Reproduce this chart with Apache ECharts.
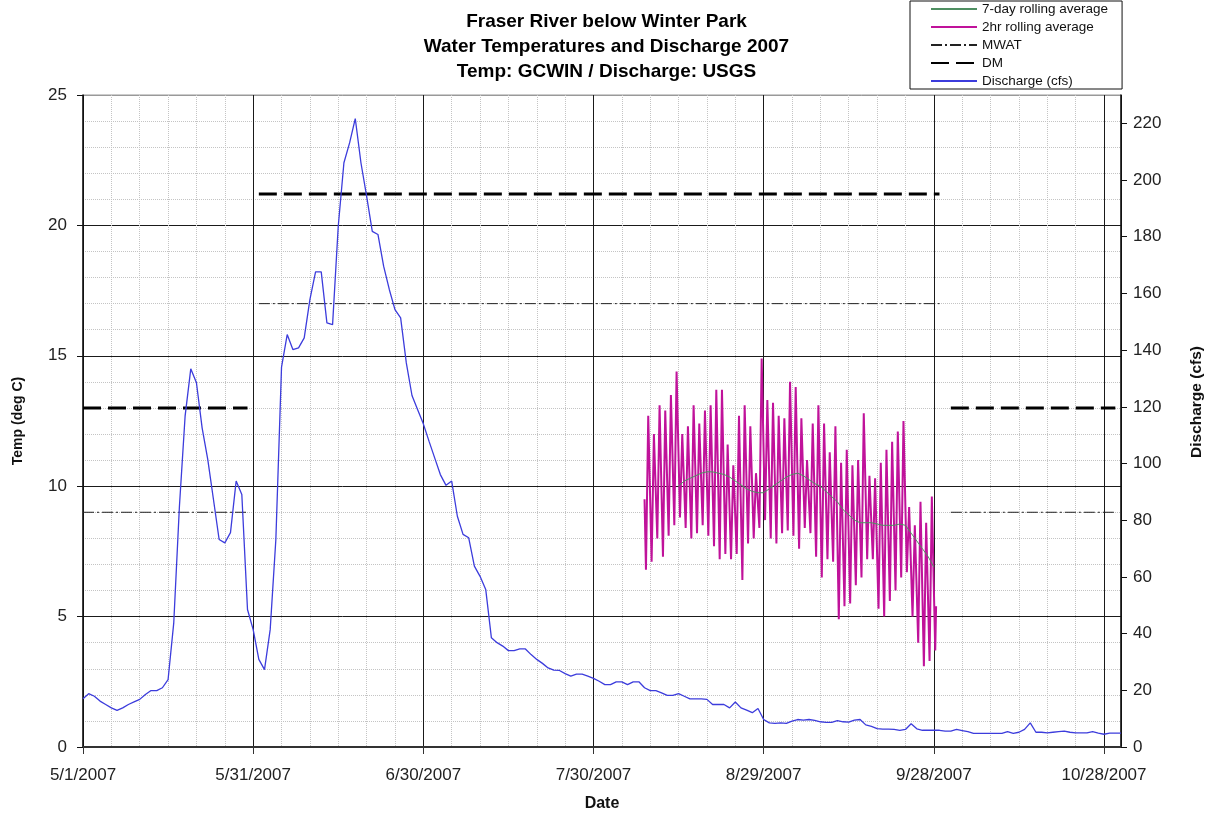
<!DOCTYPE html>
<html>
<head>
<meta charset="utf-8">
<title>Fraser River below Winter Park</title>
<script src="https://cdn.jsdelivr.net/npm/echarts@6/dist/echarts.min.js"></script>
<style>
  html, body { margin: 0; padding: 0; background: #fff; }
  #chart { width: 1213px; height: 817px; }
</style>
</head>
<body>
<div id="chart"></div>
<script>
// day 0 = 5/1/2007, x axis runs to 10/31/2007
const START = Date.UTC(2007, 4, 1);

// daily discharge (cfs), USGS, 5/1/2007 .. 10/31/2007
const discharge = [
  17.0, 18.8, 17.9, 16.2, 15.0, 13.8, 12.9, 13.8, 15.0, 15.9,
  16.8, 18.5, 19.9, 19.9, 20.9, 23.8, 43.8, 84.9, 116.7, 133.4,
  128.5, 112.6, 101.4, 87.3, 73.2, 72.0, 75.6, 93.8, 89.1, 48.5,
  41.4, 30.9, 27.3, 41.4, 73.2, 134.0, 145.5, 140.2, 140.8, 144.3,
  157.8, 167.6, 167.6, 149.6, 149.0, 183.7, 206.1, 213.1, 221.7, 206.1,
  194.3, 181.9, 180.8, 169.6, 161.4, 154.3, 151.4, 135.5, 124.0, 119.0,
  114.0, 107.9, 102.0, 96.1, 92.3, 93.8, 81.4, 75.0, 73.8, 63.8,
  60.2, 55.6, 38.5, 36.8, 35.6, 34.0, 34.0, 34.6, 34.6, 32.6,
  30.9, 29.5, 27.9, 27.1, 27.0, 25.9, 25.0, 25.7, 25.7, 25.0,
  24.2, 23.2, 22.0, 22.0, 23.0, 23.0, 22.0, 23.0, 23.0, 20.9,
  19.9, 19.9, 19.1, 18.2, 18.2, 18.8, 17.9, 17.0, 17.0, 17.0,
  16.8, 15.0, 15.0, 15.0, 13.8, 15.9, 13.8, 13.0, 12.1, 13.6,
  9.7, 8.5, 8.3, 8.5, 8.3, 9.1, 9.7, 9.5, 9.7, 9.4,
  8.9, 8.7, 8.7, 9.3, 8.9, 8.8, 9.5, 9.7, 7.8, 7.3,
  6.5, 6.3, 6.3, 6.2, 5.9, 6.2, 8.2, 6.4, 5.9, 5.9,
  5.9, 5.9, 5.6, 5.6, 6.2, 5.8, 5.4, 4.8, 4.8, 4.8,
  4.8, 4.8, 4.8, 5.4, 4.8, 5.2, 6.2, 8.5, 5.2, 5.2,
  5.0, 5.2, 5.4, 5.6, 5.2, 5.0, 5.0, 5.0, 5.4, 4.9,
  4.5, 4.9, 4.9, 4.9
];

// 2hr rolling average water temp (deg C), GCWIN: daily morning lows and afternoon highs from 8/8/2007
const tempStartDay = 99;
const tempFirst = 9.5;
const tempLow = [
  6.8, 7.1, 8.0, 7.3, 8.1, 8.5, 8.8, 8.4, 8.0, 8.2,
  8.5, 8.1, 7.7, 7.2, 7.4, 7.2, 7.4, 6.4, 7.8, 8.0,
  8.4, 8.7, 8.0, 7.8, 8.2, 8.3, 8.1, 7.6, 8.4, 8.2,
  7.3, 6.5, 7.2, 7.1, 4.9, 5.4, 5.5, 6.2, 6.5, 7.2,
  7.2, 5.3, 5.0, 5.6, 6.0, 6.5, 6.7, 5.0, 4.0, 3.1,
  3.3, 3.7
];
const tempHigh = [
  12.7, 12.0, 13.1, 12.9, 13.5, 14.4, 12.0, 12.3, 13.1, 12.4,
  12.9, 13.1, 13.7, 13.7, 11.6, 10.8, 12.7, 13.1, 12.3, 10.5,
  14.9, 13.3, 13.2, 12.7, 12.6, 14.0, 13.8, 12.6, 11.0, 12.4,
  13.1, 12.4, 11.3, 12.3, 10.9, 11.4, 10.8, 11.0, 12.8, 10.4,
  10.3, 10.9, 11.4, 11.7, 12.1, 12.5, 9.2, 8.5, 9.4, 8.6,
  9.6
];
const tempLast = 5.4;

// 7-day rolling average (deg C) from 8/14/2007
const avgStartDay = 105;
const avg7 = [
  10.0, 10.2, 10.3, 10.4, 10.5, 10.55, 10.55, 10.5, 10.45, 10.35,
  10.2, 10.05, 9.9, 9.8, 9.75, 9.75, 9.9, 10.05, 10.2, 10.35,
  10.45, 10.5, 10.4, 10.25, 10.1, 10.0, 9.8, 9.6, 9.4, 9.1,
  8.9, 8.7, 8.6, 8.6, 8.6, 8.55, 8.5, 8.5, 8.5, 8.55,
  8.5, 8.2, 7.9, 7.6, 7.3, 6.9
];

// standards by period: [first day, last day, value]
const mwat = [[0, 29, 9], [31, 151, 17], [153, 182, 9]];
const dm = [[0, 29, 13], [31, 151, 21.2], [153, 182, 13]];

function fmtDay(v) {
  const d = new Date(START + v * 86400000);
  return (d.getUTCMonth() + 1) + '/' + d.getUTCDate() + '/' + d.getUTCFullYear();
}

function segments(list) {
  const out = [];
  list.forEach(function (s, i) {
    if (i > 0) out.push([s[0] - 0.5, null]);
    out.push([s[0], s[2]]);
    out.push([s[1], s[2]]);
  });
  return out;
}

const dischargeData = discharge.map(function (v, i) { return [i, v]; });

const tempData = [[tempStartDay, tempFirst]];
tempLow.forEach(function (lo, i) {
  const d = tempStartDay + i;
  tempData.push([d + 0.25, lo]);
  if (i < tempHigh.length) tempData.push([d + 0.65, tempHigh[i]]);
});
tempData.push([tempStartDay + tempLow.length - 1 + 0.4, tempLast]);

const avgData = avg7.map(function (v, i) { return [avgStartDay + i, v]; });

const font = 'Liberation Sans, Arial, sans-serif';
const major = '#1a1a1a';

const chart = echarts.init(document.getElementById('chart'));
chart.setOption({
  animation: false,
  backgroundColor: '#fff',
  textStyle: { fontFamily: font },
  title: {
    text: 'Fraser River below Winter Park\nWater Temperatures and Discharge 2007\nTemp: GCWIN / Discharge: USGS',
    left: 'center',
    top: 4,
    textStyle: { fontSize: 19, fontWeight: 'bold', lineHeight: 25, color: '#000', fontFamily: font }
  },
  legend: {
    orient: 'vertical',
    left: 910,
    top: 1,
    padding: [1, 14, 1, 20],
    itemWidth: 46,
    itemHeight: 12,
    itemGap: 4,
    borderColor: '#111',
    borderWidth: 1,
    backgroundColor: '#fff',
    itemStyle: { opacity: 0 },
    textStyle: { fontSize: 13.5, color: '#111', fontFamily: font },
    data: ['7-day rolling average', '2hr rolling average', 'MWAT', 'DM', 'Discharge (cfs)']
  },
  grid: {
    left: 83, right: 91, top: 95, bottom: 70,
    show: true, borderColor: '#999', borderWidth: 1
  },
  xAxis: {
    type: 'value',
    min: 0,
    max: 183,
    interval: 30,
    name: 'Date',
    nameLocation: 'middle',
    nameGap: 49,
    nameTextStyle: { fontSize: 16, fontWeight: 'bold', color: '#111' },
    axisLine: { lineStyle: { color: '#333', width: 2 } },
    axisTick: { length: 7, lineStyle: { color: '#333' } },
    axisLabel: { formatter: fmtDay, fontSize: 17, color: '#222', margin: 20, showMaxLabel: false },
    splitLine: { show: true, lineStyle: { color: major, width: 1 } },
    minorTick: { show: false, splitNumber: 6 },
    minorSplitLine: { show: true, lineStyle: { color: '#c4c4c4', type: 'dotted', width: 1 } }
  },
  yAxis: [
    {
      type: 'value',
      position: 'left',
      min: 0,
      max: 25,
      interval: 5,
      name: 'Temp (deg C)',
      nameLocation: 'middle',
      nameGap: 58,
      nameTextStyle: { fontSize: 14, fontWeight: 'bold', color: '#111' },
      axisLine: { show: true, lineStyle: { color: '#111', width: 1.5 } },
      axisTick: { show: true, length: 6, lineStyle: { color: '#111' } },
      axisLabel: { fontSize: 17, color: '#222', margin: 16 },
      splitLine: { show: true, lineStyle: { color: [major, major, major, major, major, '#999'], width: 1 } },
      minorTick: { show: false, splitNumber: 5 },
      minorSplitLine: { show: true, lineStyle: { color: '#c4c4c4', type: 'dotted', width: 1 } }
    },
    {
      type: 'value',
      position: 'right',
      min: 0,
      max: 230,
      interval: 20,
      name: 'Discharge (cfs)',
      nameLocation: 'middle',
      nameGap: 68,
      nameRotate: 90,
      nameTextStyle: { fontSize: 15.5, fontWeight: 'bold', color: '#111', padding: [0, 0, 0, 38] },
      axisLine: { show: true, lineStyle: { color: '#111', width: 1.5 } },
      axisTick: { show: true, length: 6, lineStyle: { color: '#111' } },
      axisLabel: { fontSize: 17, color: '#222', margin: 12, showMaxLabel: false },
      splitLine: { show: false }
    }
  ],
  series: [
    {
      name: '7-day rolling average',
      type: 'line',
      yAxisIndex: 0,
      symbol: 'none',
      z: 4,
      lineStyle: { color: '#4f8f62', width: 1 },
      itemStyle: { color: '#4f8f62' },
      data: avgData
    },
    {
      name: '2hr rolling average',
      type: 'line',
      yAxisIndex: 0,
      symbol: 'none',
      z: 3,
      lineStyle: { color: '#c0129a', width: 2 },
      itemStyle: { color: '#c0129a' },
      data: tempData
    },
    {
      name: 'MWAT',
      type: 'line',
      yAxisIndex: 0,
      symbol: 'none',
      connectNulls: false,
      lineStyle: { color: '#222', width: 1, type: [11, 3, 2, 3] },
      itemStyle: { color: '#222' },
      data: segments(mwat)
    },
    {
      name: 'DM',
      type: 'line',
      yAxisIndex: 0,
      symbol: 'none',
      connectNulls: false,
      lineStyle: { color: '#000', width: 3, type: [18, 7] },
      itemStyle: { color: '#000' },
      data: segments(dm)
    },
    {
      name: 'Discharge (cfs)',
      type: 'line',
      yAxisIndex: 1,
      symbol: 'none',
      lineStyle: { color: '#3c3cdc', width: 1.3 },
      itemStyle: { color: '#3c3cdc' },
      data: dischargeData
    }
  ]
});
</script>
</body>
</html>
